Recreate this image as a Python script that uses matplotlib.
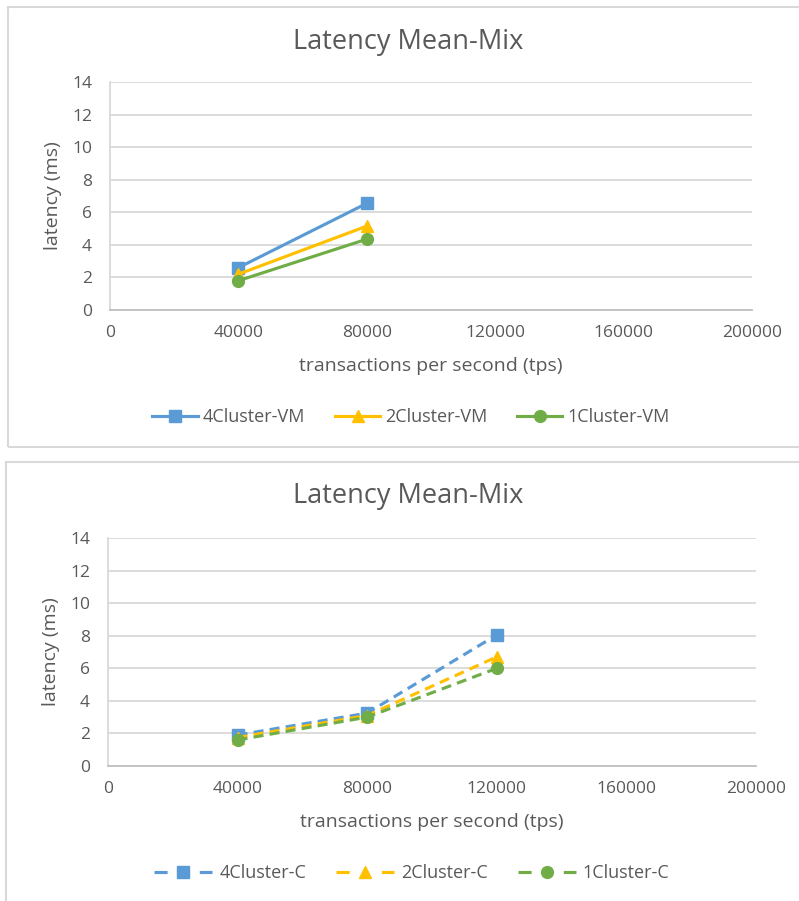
import matplotlib.pyplot as plt
from matplotlib.lines import Line2D
from matplotlib.patches import Rectangle

plt.rcParams['font.family'] = ['Open Sans', 'DejaVu Sans']

tps = [40000, 80000, 120000]

# VM deployment (only two load levels measured)
vm_4cluster = [2.6, 6.55]
vm_2cluster = [2.2, 5.15]
vm_1cluster = [1.8, 4.35]

# container deployment
c_4cluster = [1.9, 3.25, 8.05]
c_2cluster = [1.75, 3.1, 6.7]
c_1cluster = [1.6, 3.0, 6.0]

BLUE = '#5B9BD5'
GOLD = '#FFC000'
GREEN = '#70AD47'
TEXT = '#595959'
GRID = '#D9D9D9'

W, H = 799, 901
fig = plt.figure(figsize=(W / 100, H / 100), dpi=100)


def px(x0, y0, x1, y1):
    # pixel box -> figure fraction [left, bottom, width, height]
    return [x0 / W, 1 - y1 / H, (x1 - x0) / W, (y1 - y0) / H]


def draw_panel(frame, plot_box, title_y, series, dashed):
    fx0, fy0, fx1, fy1 = frame
    fig.patches.append(Rectangle((fx0 / W, 1 - fy1 / H), (fx1 - fx0) / W, (fy1 - fy0) / H,
                                 transform=fig.transFigure, facecolor='none',
                                 edgecolor='#D9D9D9', linewidth=1.5, zorder=0))
    ax = fig.add_axes(px(*plot_box))
    ax.patch.set_alpha(0)
    handles = []
    for label, color, marker, ys in series:
        kw = dict(color=color, linewidth=2.25, marker=marker, markersize=8.5,
                  markeredgecolor=color, markerfacecolor=color)
        if dashed:
            ax.plot(tps[:len(ys)], ys, dashes=(3.2, 2.0), **kw)
            # legend key: dash - marker - dash
            handles.append(Line2D([], [], dashes=(4.2, 10.3), label=label, **kw))
        else:
            line, = ax.plot(tps[:len(ys)], ys, label=label, **kw)
            handles.append(line)

    ax.set_xlim(0, 200000)
    ax.set_ylim(0, 14)
    ax.set_xticks(range(0, 200001, 40000))
    ax.set_yticks(range(0, 15, 2))
    ax.grid(axis='y', color=GRID, linewidth=1.3)
    ax.set_axisbelow(True)
    for side in ('top', 'right'):
        ax.spines[side].set_visible(False)
    ax.spines['left'].set_color(GRID)
    ax.spines['left'].set_linewidth(1.3)
    ax.spines['bottom'].set_color('#BFBFBF')
    ax.spines['bottom'].set_linewidth(1.3)
    ax.tick_params(length=0, labelsize=12.5, labelcolor=TEXT)
    ax.tick_params(axis='x', pad=11)
    ax.tick_params(axis='y', pad=13)

    ax.set_xlabel('transactions per second (tps)', fontsize=14, color=TEXT, labelpad=11)
    ax.set_ylabel('latency (ms)', fontsize=14, color=TEXT, labelpad=7)

    fig.text(408 / W, 1 - title_y / H, 'Latency Mean-Mix', fontsize=19.5, color=TEXT,
             ha='center', va='center')

    if dashed:
        hl, pad = 3.2, 0.4
    else:
        hl, pad = 2.5, 0.28
    leg = ax.legend(handles=handles, loc='center', bbox_to_anchor=(0.469, -0.47), ncol=3,
                    frameon=False, fontsize=13, handlelength=hl, columnspacing=1.66,
                    handletextpad=pad, numpoints=1)
    for t in leg.get_texts():
        t.set_color(TEXT)
    return ax


draw_panel((8, 7, 815, 447), (110, 82, 752, 310), 42,
           [('4Cluster-VM', BLUE, 's', vm_4cluster),
            ('2Cluster-VM', GOLD, '^', vm_2cluster),
            ('1Cluster-VM', GREEN, 'o', vm_1cluster)], dashed=False)

draw_panel((6, 462, 815, 915), (108, 538, 756, 766), 496,
           [('4Cluster-C', BLUE, 's', c_4cluster),
            ('2Cluster-C', GOLD, '^', c_2cluster),
            ('1Cluster-C', GREEN, 'o', c_1cluster)], dashed=True)

fig.savefig('out.png', dpi=100)
